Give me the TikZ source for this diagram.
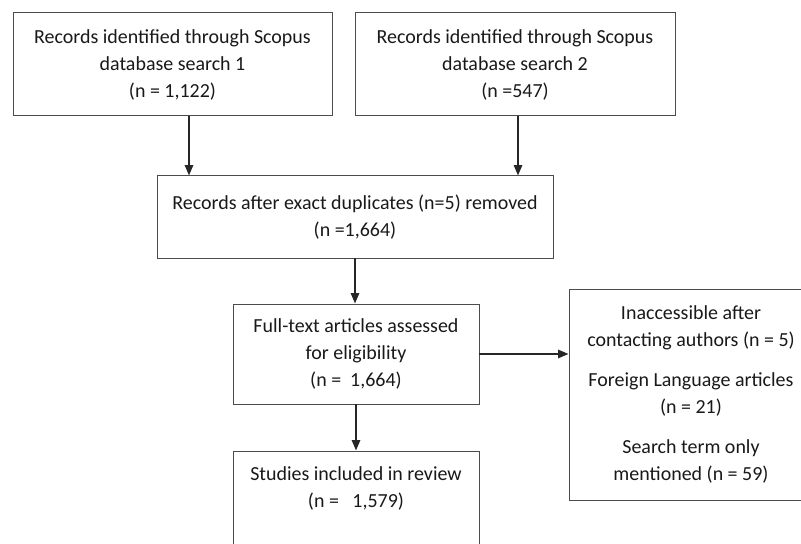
\documentclass[tikz,border=0pt]{standalone}
\usepackage{fontspec}
\setmainfont{Carlito}
\usepackage{tikz}
\usetikzlibrary{arrows.meta}

\begin{document}
\begin{tikzpicture}[
    box/.style={draw=black!70, line width=0.7pt, align=center, inner sep=0pt,
                text=black!90, font=\fontsize{14.2pt}{19.2pt}\selectfont},
    arr/.style={-{Triangle[length=2.6mm,width=2.1mm]}, line width=1.1pt, black!85}
]
\useasboundingbox (0,0) rectangle (20.025,13.6);

% Draw search boxes
\node[box, minimum width=7.975cm, minimum height=2.575cm] (search1) at (4.3125,11.9875)
    {Records identified through Scopus\\database search 1\\(n = 1,122)};
\node[box, minimum width=8cm, minimum height=2.575cm] (search2) at (12.875,11.9875)
    {Records identified through Scopus\\database search 2\\(n =547)};

% Draw screening boxes
\node[box, minimum width=9.9cm, minimum height=2.05cm] (dedup) at (8.875,8.175)
    {Records after exact duplicates (n=5) removed\\(n =1,664)};
\node[box, minimum width=6.15cm, minimum height=2.5cm] (assess) at (8.9,4.75)
    {Full-text articles assessed\\for eligibility\\(n = ~1,664)};
\node[box, minimum width=6.1cm, minimum height=5.275cm] (excluded) at (17.275,3.7375)
    {Inaccessible after\\contacting authors (n = 5)\\[0.33cm]
     Foreign Language articles\\(n = 21)\\[0.33cm]
     Search term only\\mentioned (n = 59)};
\node[box, minimum width=6.15cm, minimum height=2.5cm] (included) at (8.9,1.075)
    {Studies included in review\\(n = ~~1,579)\\~};

% Draw arrows
\draw[arr] ([xshift=4.125mm]search1.south) -- ([xshift=4.125mm]search1.south |- dedup.north);
\draw[arr] ([xshift=0.75mm]search2.south) -- ([xshift=0.75mm]search2.south |- dedup.north);
\draw[arr] (dedup.south) -- (dedup.south |- assess.north);
\draw[arr] (assess.east) -- (assess.east -| excluded.west);
\draw[arr] (assess.south) -- (assess.south |- included.north);
\end{tikzpicture}
\end{document}
